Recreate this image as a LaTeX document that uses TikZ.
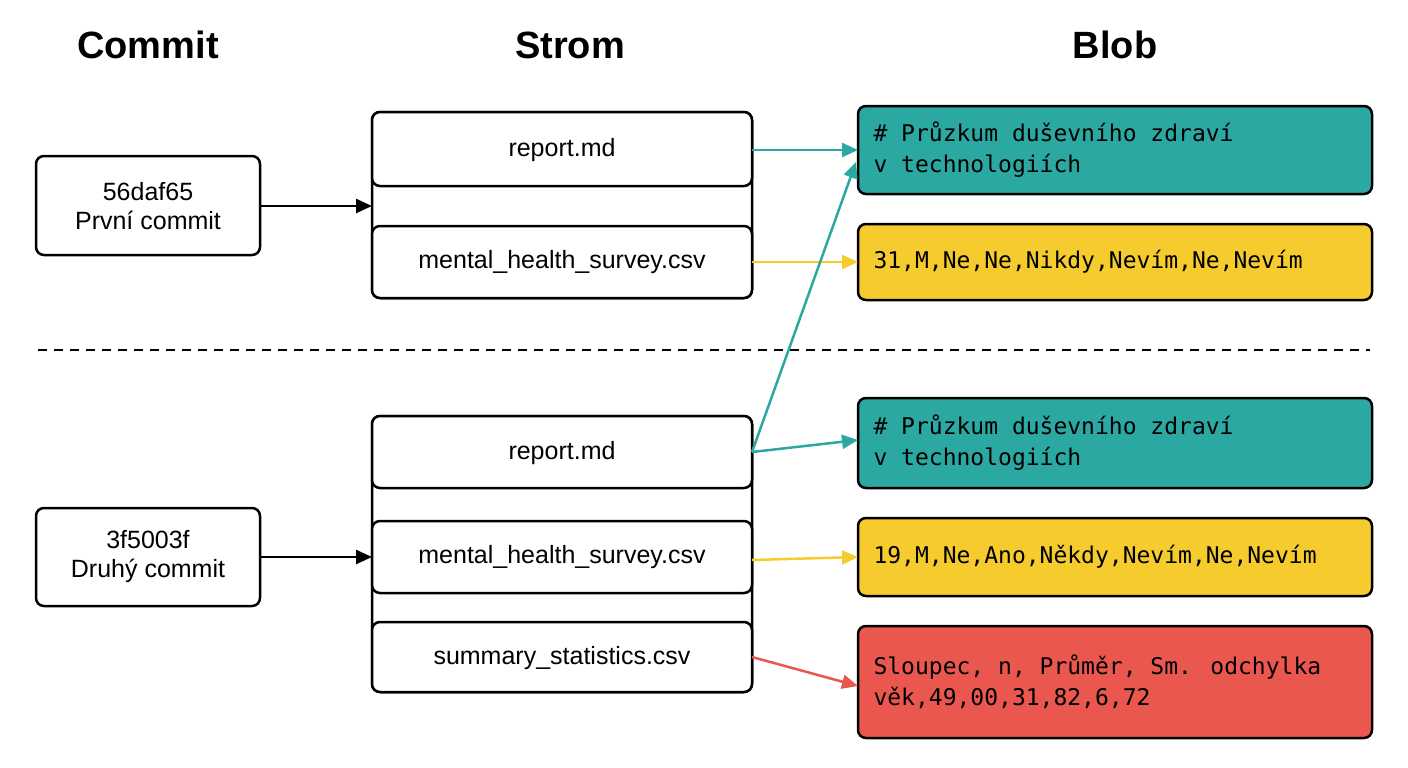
\documentclass[tikz,border=0pt]{standalone}
\usepackage{fontspec}
\setmainfont{Liberation Sans}
\newfontfamily\blobmono{DejaVu Sans Mono}
\usetikzlibrary{arrows.meta}
\definecolor{tealc}{HTML}{2BA8A2}
\definecolor{yelc}{HTML}{F5CB2E}
\definecolor{redc}{HTML}{E9574F}
\begin{document}
\begin{tikzpicture}[x=1pt,y=-1pt,
  box/.style={draw=black,line width=2.5pt,rounded corners=8pt,fill=white},
  lbl/.style={font=\fontsize{25}{29}\selectfont,align=center},
  hdr/.style={font=\fontsize{38}{42}\selectfont\bfseries},
  btxt/.style={font=\blobmono\fontsize{23}{31}\selectfont,align=left,anchor=west},
  arr/.style={line width=2.5pt,-{Triangle[length=16pt,width=14pt]}}]
\useasboundingbox (0,0) rectangle (1408,768);
\node[hdr] (h1) at (148,45) {Commit};
\node[hdr] (h2) at (570,45) {Strom};
\node[hdr] (h3) at (1115,45) {Blob};
% commits
\draw[box] (36,156) rectangle (260,255);
\node[lbl] (c1) at (148,206) {56daf65\\První commit};
\coordinate (c1e) at (260,206);
\draw[box] (36,508) rectangle (260,606);
\node[lbl] (c2) at (148,557) {3f5003f\\Druhý commit};
\coordinate (c2e) at (260,557);
% trees
\draw[box] (372,112) rectangle (752,298);
\draw[box] (372,112) rectangle (752,186);
\draw[box] (372,226) rectangle (752,298);
\node[lbl] (t1a) at (562,150) {report.md};
\node[lbl] (t1b) at (562,262) {mental\_health\_survey.csv};
\coordinate (t1w) at (372,206);
\coordinate (t1ae) at (752,150);
\coordinate (t1be) at (752,262);
\draw[box] (372,416) rectangle (752,692);
\draw[box] (372,416) rectangle (752,488);
\draw[box] (372,521) rectangle (752,593);
\draw[box] (372,622) rectangle (752,692);
\node[lbl] (t2a) at (562,453) {report.md};
\node[lbl] (t2b) at (562,557) {mental\_health\_survey.csv};
\node[lbl] (t2c) at (562,658) {summary\_statistics.csv};
\coordinate (t2w) at (372,557);
\coordinate (t2ae) at (752,452);
\coordinate (t2be) at (752,560);
\coordinate (t2ce) at (752,657);
% blobs
\draw[box,fill=tealc] (858,106) rectangle (1372,194);
\node[btxt] (b1) at (870,150) {\# Průzkum duševního zdraví\\v technologiích};
\draw[box,fill=yelc] (858,224) rectangle (1372,300);
\node[btxt] (b2) at (870,262) {31,M,Ne,Ne,Nikdy,Nevím,Ne,Nevím};
\draw[box,fill=tealc] (858,398) rectangle (1372,488);
\node[btxt] (b3) at (870,443) {\# Průzkum duševního zdraví\\v technologiích};
\draw[box,fill=yelc] (858,518) rectangle (1372,596);
\node[btxt] (b4) at (870,557) {19,M,Ne,Ano,Někdy,Nevím,Ne,Nevím};
\draw[box,fill=redc] (858,626) rectangle (1372,738);
\node[btxt] (b5) at (870,682) {Sloupec, n, Průměr, Sm. odchylka\\věk,49,00,31,82,6,72};
\coordinate (b1w) at (858,150);
\coordinate (b1wl) at (856,162);
\coordinate (b2w) at (858,262);
\coordinate (b3w) at (858,440);
\coordinate (b4w) at (858,557);
\coordinate (b5w) at (858,686);
% separator
\draw[line width=2.5pt,dash pattern=on 9pt off 7pt] (38,350) -- (1370,350);
% arrows
\draw[arr,black] (c1e) -- (t1w);
\draw[arr,black] (c2e) -- (t2w);
\draw[arr,tealc] (t1ae) -- (b1w);
\draw[arr,yelc] (t1be) -- (b2w);
\draw[arr,tealc] (t2ae) -- (b3w);
\draw[arr,tealc] (t2ae) -- (b1wl);
\draw[arr,yelc] (t2be) -- (b4w);
\draw[arr,redc] (t2ce) -- (b5w);
\end{tikzpicture}
\end{document}
